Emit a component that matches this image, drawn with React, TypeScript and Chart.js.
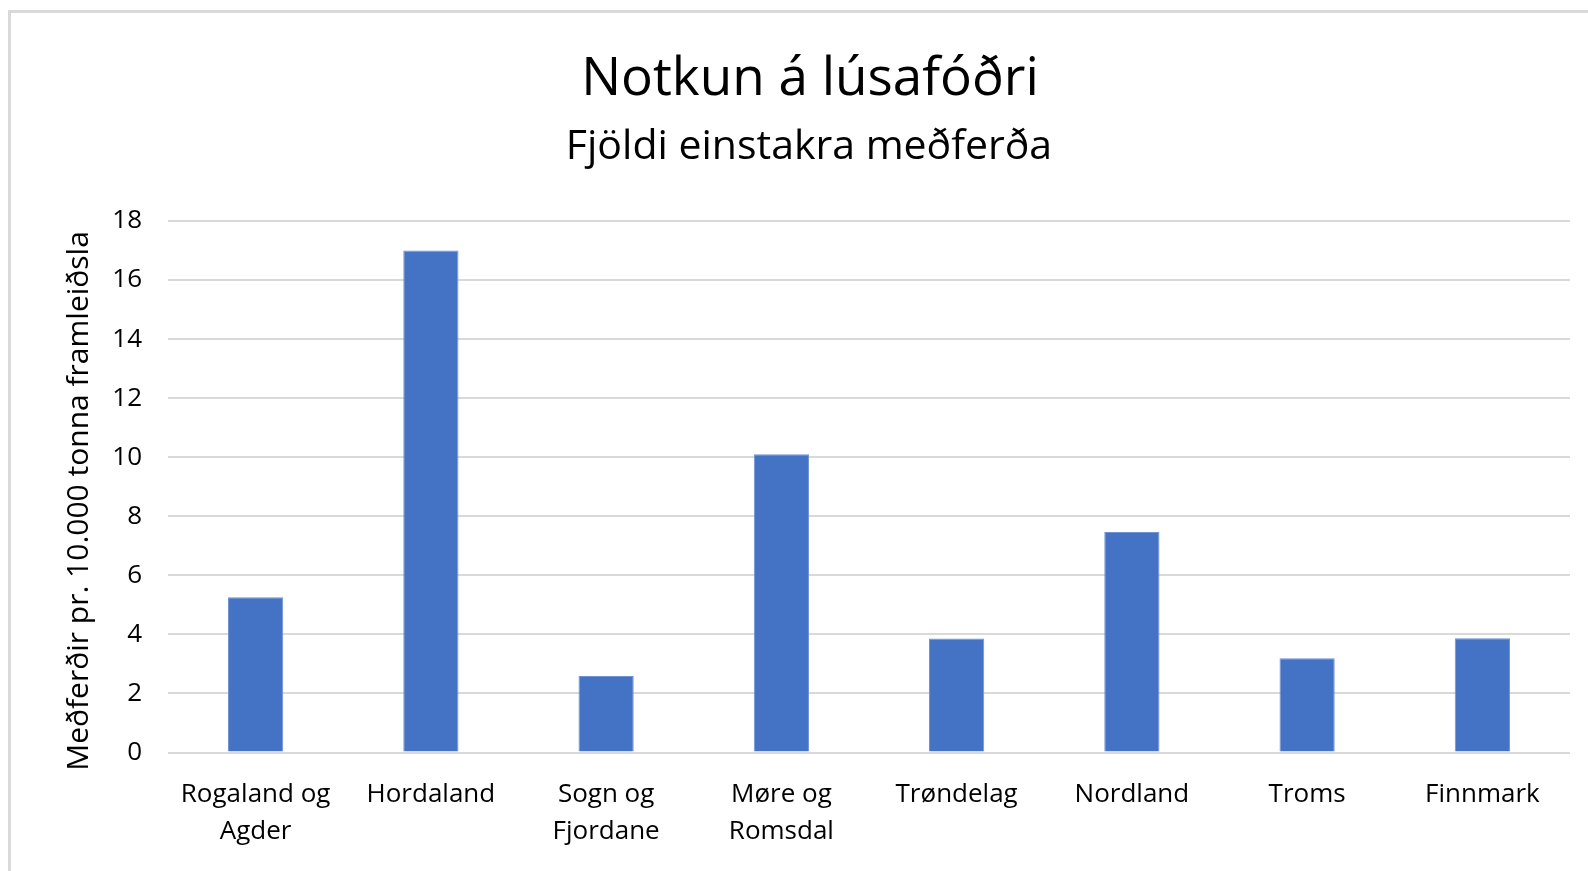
import React, { useEffect, useRef } from "react";
import { Chart, registerables } from "chart.js";

Chart.register(...registerables);

const categories: (string | string[])[] = [
  ["Rogaland og", "Agder"],
  "Hordaland",
  ["Sogn og", "Fjordane"],
  ["Møre og", "Romsdal"],
  "Trøndelag",
  "Nordland",
  "Troms",
  "Finnmark",
];
const values = [5.26, 17.0, 2.59, 10.1, 3.86, 7.47, 3.19, 3.87];
const yMin = 0;
const yMax = 18;
const yStep = 2;
const titleText = "Notkun á lúsafóðri";
const subtitleText = "Fjöldi einstakra meðferða";
const yAxisTitle = "Meðferðir pr. 10.000 tonna framleiðsla";

const FONT = "'Open Sans', Lato, sans-serif";

const textPlugin = {
  id: "chartTexts",
  afterDraw(chart: any) {
    const ctx = chart.ctx as CanvasRenderingContext2D;
    ctx.save();
    ctx.fillStyle = "#000000";
    ctx.textAlign = "center";
    ctx.textBaseline = "middle";
    ctx.font = `normal 53px ${FONT}`;
    ctx.fillText(titleText, 810, 80);
    ctx.font = `normal 41px ${FONT}`;
    ctx.fillText(subtitleText, 809, 147);
    ctx.translate(79, 501);
    ctx.rotate(-Math.PI / 2);
    ctx.font = `normal 30px ${FONT}`;
    ctx.fillText(yAxisTitle, 0, 0);
    ctx.restore();
  },
};

export default function App() {
  const ref = useRef<HTMLCanvasElement | null>(null);

  useEffect(() => {
    if (!ref.current) return;
    const chart = new Chart(ref.current, {
      type: "bar",
      data: {
        labels: categories,
        datasets: [
          {
            data: values,
            backgroundColor: "#4472C4",
            borderColor: "#6E92D2",
            borderWidth: 1,
            barPercentage: 0.315,
            categoryPercentage: 1,
          },
        ],
      },
      options: {
        animation: false,
        responsive: false,
        maintainAspectRatio: false,
        layout: { padding: { top: 221, left: 0, right: 18, bottom: 0 } },
        plugins: {
          legend: { display: false },
          tooltip: { enabled: false },
          title: { display: false },
          subtitle: { display: false },
        },
        scales: {
          x: {
            grid: { display: false, drawTicks: false },
            border: { display: false },
            ticks: {
              color: "#000000",
              font: { family: FONT, size: 26, lineHeight: 1.44 },
              padding: 23,
              maxRotation: 0,
              autoSkip: false,
            },
            afterFit: (s: any) => {
              s.height = 118.5;
            },
          },
          y: {
            min: yMin,
            max: yMax,
            grid: { color: "#d9d9d9", lineWidth: 2, drawTicks: false },
            border: { display: false },
            ticks: {
              stepSize: yStep,
              color: "#000000",
              font: { family: FONT, size: 26 },
              padding: 26,
            },
            afterFit: (s: any) => {
              s.width = 168;
            },
          },
        },
      },
      plugins: [textPlugin],
    });
    return () => chart.destroy();
  }, []);

  return (
    <div style={{ position: "fixed", left: 0, top: 0, width: 1588, height: 871, background: "#ffffff" }}>
      <div
        style={{
          position: "absolute",
          left: 8,
          top: 10,
          width: 1600,
          height: 900,
          borderLeft: "3px solid #d9d9d9",
          borderTop: "3px solid #d9d9d9",
        }}
      />
      <canvas ref={ref} width={1588} height={871} style={{ position: "absolute", left: 0, top: 0 }} />
    </div>
  );
}
